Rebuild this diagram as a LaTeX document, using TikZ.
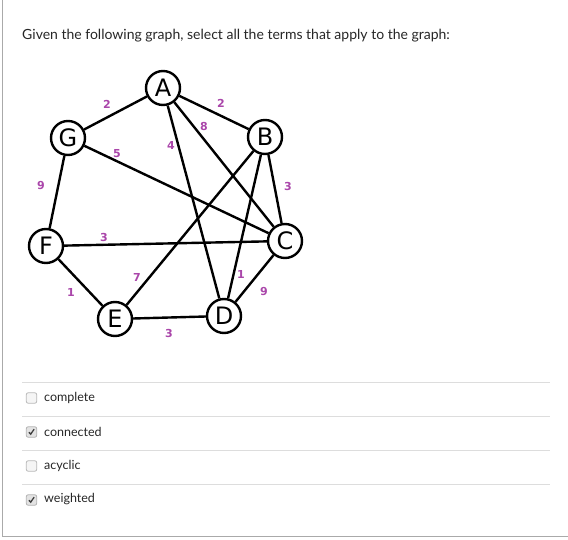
\documentclass[tikz,border=0pt]{standalone}
\usepackage{fontspec}
\setmainfont{Lato}
\newfontfamily\nodefont{DejaVu Sans}
\newfontfamily\labfont{DejaVu Sans}
\definecolor{wlab}{RGB}{170,70,170}
\definecolor{sepline}{RGB}{221,221,221}
\definecolor{frameline}{RGB}{170,170,170}
\begin{document}
\begin{tikzpicture}[x=1pt,y=-1pt,
  vert/.style={circle,draw=black,fill=white,line width=2.4pt,minimum size=34pt,inner sep=0pt,
    font=\nodefont\fontsize{24}{24}\selectfont},
  edge/.style={line width=2.4pt,black},
  wt/.style={text=wlab,inner sep=0pt,font=\labfont\bfseries\fontsize{11}{11}\selectfont},
  cbox/.style={rectangle,rounded corners=2pt,draw=gray!55,fill=gray!8,line width=0.8pt,minimum size=10.5pt,inner sep=0pt},
  cboxon/.style={cbox,fill=gray!22,draw=gray!60},
  opt/.style={anchor=west,inner sep=0pt,font=\fontsize{12.5}{13}\selectfont,text=black!85},
  sep/.style={draw=sepline,line width=1pt}
]
\useasboundingbox (0,0) rectangle (568,540);
\draw[frameline,line width=1pt] (2.5,0) -- (2.5,536.5) -- (568,536.5);

\node[anchor=base west,inner sep=0pt,font=\fontsize{14}{16}\selectfont,text=black!85] (title) at (22,40)
  {Given the following graph, select all the terms that apply to the graph:};

% vertices
\node[vert] (A) at (163,88) {A};
\node[vert] (G) at (68,138) {G};
\node[vert] (B) at (265,137) {B};
\node[vert] (F) at (46,246) {F};
\node[vert] (C) at (285,241) {C};
\node[vert] (E) at (115,319) {E};
\node[vert] (D) at (224,316) {D};

% edges
\draw[edge] (A) -- (G);
\draw[edge] (A) -- (B);
\draw[edge] (A) -- (D);
\draw[edge] (A) -- (C);
\draw[edge] (G) -- (C);
\draw[edge] (G) -- (F);
\draw[edge] (B) -- (E);
\draw[edge] (B) -- (D);
\draw[edge] (B) -- (C);
\draw[edge] (F) -- (C);
\draw[edge] (F) -- (E);
\draw[edge] (E) -- (D);
\draw[edge] (C) -- (D);

% weights
\node[wt] (wAG) at (107,104) {2};
\node[wt] (wAB) at (221,103) {2};
\node[wt] (wAC) at (204,126) {8};
\node[wt] (wAD) at (171,145) {4};
\node[wt] (wGC) at (117,154) {5};
\node[wt] (wGF) at (41,186) {9};
\node[wt] (wBC) at (288,186) {3};
\node[wt] (wFC) at (104,237) {3};
\node[wt] (wFE) at (71,292) {1};
\node[wt] (wEB) at (137,277) {7};
\node[wt] (wBD) at (241,274) {1};
\node[wt] (wCD) at (264,292) {9};
\node[wt] (wED) at (169,333) {3};

% options
\draw[sep] (22,382.5) -- (550,382.5);
\draw[sep] (22,416.5) -- (550,416.5);
\draw[sep] (22,450.5) -- (550,450.5);
\draw[sep] (22,484.5) -- (550,484.5);

\node[cbox] (c1) at (31.5,398) {};
\node[cboxon] (c2) at (31.5,432) {};
\node[cbox] (c3) at (31.5,466) {};
\node[cboxon] (c4) at (31.5,500) {};
\draw[black!75,line width=1.3pt] ([shift={(-2.6,0.2)}]c2.center) -- ([shift={(-0.8,2.2)}]c2.center) -- ([shift={(2.6,-2.8)}]c2.center);
\draw[black!75,line width=1.3pt] ([shift={(-2.6,0.2)}]c4.center) -- ([shift={(-0.8,2.2)}]c4.center) -- ([shift={(2.6,-2.8)}]c4.center);

\node[opt] (t1) at (44,397.5) {complete};
\node[opt] (t2) at (44,431.5) {connected};
\node[opt] (t3) at (44,465.5) {acyclic};
\node[opt] (t4) at (44,499.5) {weighted};
\end{tikzpicture}
\end{document}
